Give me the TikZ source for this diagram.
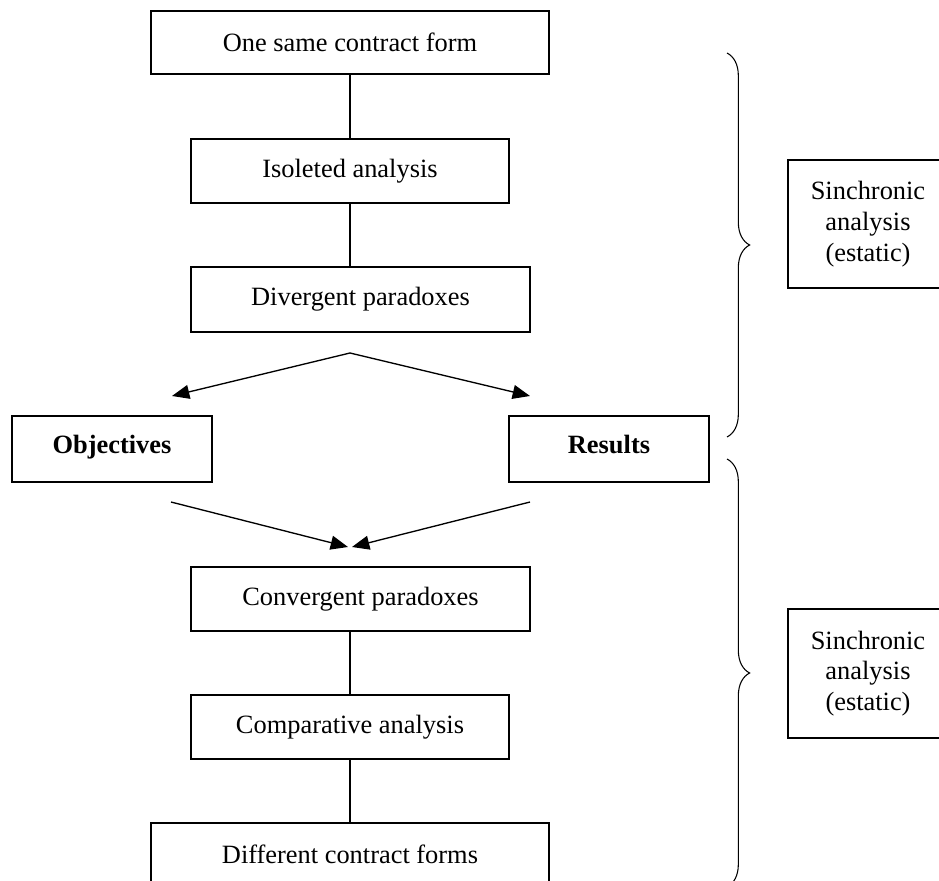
\documentclass[tikz,border=0pt]{standalone}
\usepackage{fontspec}
\setmainfont{Liberation Serif}
\usetikzlibrary{arrows.meta,decorations.pathreplacing}

\begin{document}
\begin{tikzpicture}[x=0.75pt, y=-0.75pt, line width=1pt,
                        stagebox/.style={draw, inner sep=0pt, minimum height=48pt, align=center,
                                         font=\fontsize{19.8}{23}\selectfont},
                        boldbox/.style={stagebox, minimum width=150pt, minimum height=49.5pt,
                                        text height=11pt, text depth=5pt,
                                        font=\fontsize{19.8}{23}\selectfont\bfseries},
                        flow/.style={-{Triangle[length=13pt,width=10.5pt]}},
                        bracket/.style={decorate, decoration={brace, amplitude=17pt}, line width=0.8pt}]
        \useasboundingbox (0,0) rectangle (939,881);
        \clip (0,0) rectangle (939,881);
        \node[stagebox, minimum width=298.5pt, minimum height=47.25pt] (same) at (350,42.5) {One same contract form};
        \node[stagebox, minimum width=238.5pt] (isolated) at (350,171) {Isoleted analysis};
        \node[stagebox, minimum width=254.25pt, minimum height=48.75pt] (divergent) at (360.5,299.5) {Divergent paradoxes};
        \node[boldbox] (objectives) at (112,449) {Objectives};
        \node[boldbox] (results) at (609,449) {Results};
        \node[stagebox, minimum width=254.25pt] (convergent) at (360.5,599) {Convergent paradoxes};
        \node[stagebox, minimum width=238.5pt] (comparative) at (350,727) {Comparative analysis};
        \node[stagebox, minimum width=298.5pt, minimum height=47.25pt] (different) at (350,854.5) {Different contract forms};
        \node[stagebox, minimum width=120pt, minimum height=96pt] (sinc1) at (868,224) {Sinchronic\\analysis\\(estatic)};
        \node[stagebox, minimum width=120pt, minimum height=96.75pt] (sinc2) at (868,673.5) {Sinchronic\\analysis\\(estatic)};

        \coordinate (fork) at (350,353);
        \coordinate (objin) at (172,396);
        \coordinate (resin) at (530,396);
        \coordinate (objout) at (171,502);
        \coordinate (resout) at (530,502);
        \coordinate (joinl) at (348,547);
        \coordinate (joinr) at (352,547);
        \coordinate (brace1top) at (727,53);
        \coordinate (brace1bot) at (727,437);
        \coordinate (brace2top) at (727,459);
        \coordinate (brace2bot) at (727,887);

        \draw (same) -- (isolated);
        \draw (isolated.south) -- (isolated.south |- divergent.north);
        \draw[flow] (fork) -- (objin);
        \draw[flow] (fork) -- (resin);
        \draw[flow] (objout) -- (joinl);
        \draw[flow] (resout) -- (joinr);
        \draw (comparative.north |- convergent.south) -- (comparative.north);
        \draw (comparative) -- (different);

        \draw[bracket] (brace1top) -- (brace1bot);
        \draw[bracket] (brace2top) -- (brace2bot);
    \end{tikzpicture}
\end{document}
